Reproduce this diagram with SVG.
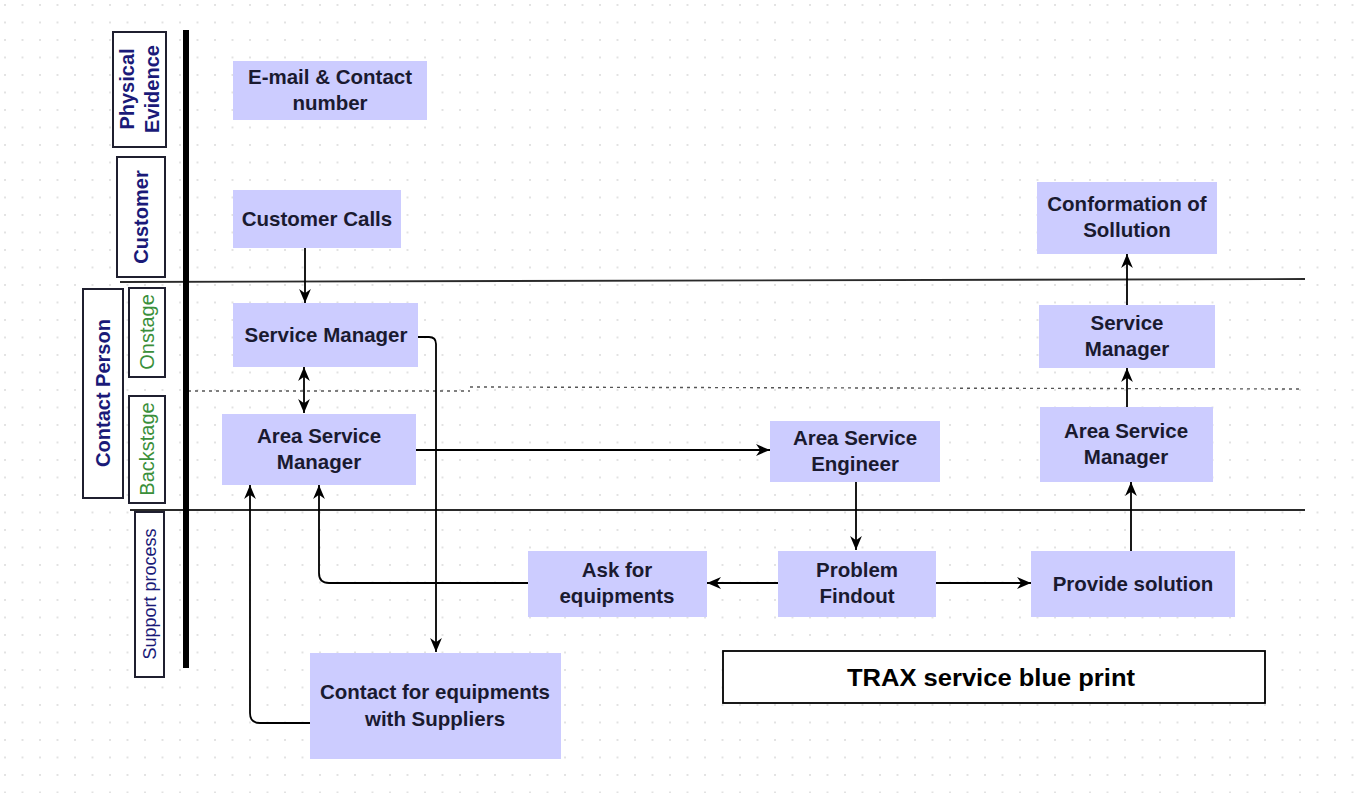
<svg xmlns="http://www.w3.org/2000/svg" width="1368" height="793" viewBox="0 0 1368 793">
<defs>
<pattern id="grid" x="4" y="4" width="17.5" height="17.5" patternUnits="userSpaceOnUse">
<circle cx="1" cy="1" r="0.9" fill="#d6d6d6"/>
</pattern>
<marker id="arr" viewBox="0 0 10 10" refX="10" refY="5" markerWidth="14" markerHeight="14" markerUnits="userSpaceOnUse" orient="auto-start-reverse">
<path d="M0,0.8 L10,5 L0,9.2 L3,5 z" fill="#000"/>
</marker>
</defs>
<style>
.node rect{fill:#ccccff;stroke:none}
.node text{font-family:"Liberation Sans",Arial,sans-serif;font-weight:bold;font-size:20.5px;fill:#1a1a30;text-anchor:middle}
.lane rect{fill:#fff;stroke:#1f1f2f;stroke-width:2}
.lane text{font-family:"Liberation Sans",Arial,sans-serif;font-size:20px;text-anchor:middle}
.navy{fill:#1a1a78;font-weight:bold}
.green{fill:#3a8f3a}
.conn path{fill:none;stroke:#000;stroke-width:1.8;marker-end:url(#arr)}
.sep{stroke:#2a2a2a;stroke-width:1.8}
.dot{stroke:#555;stroke-width:1.4;stroke-dasharray:3 4}
</style>
<rect width="1368" height="793" fill="#fff"/>
<rect width="1368" height="793" fill="url(#grid)"/>

<g id="separators">
<line class="sep" x1="120" y1="282" x2="1305" y2="279"/>
<line class="sep" x1="130" y1="510" x2="1305" y2="510"/>
<line class="dot" x1="188" y1="391" x2="470" y2="391"/>
<line class="dot" x1="470" y1="387" x2="1300" y2="389"/>
<line x1="186" y1="30" x2="186" y2="668" stroke="#000" stroke-width="6"/>
</g>

<g id="lane-physical" class="lane">
<rect x="113" y="32" width="53" height="115"/>
<g transform="translate(139,89) rotate(-90)">
<text class="navy" x="0" y="-5">Physical</text>
<text class="navy" x="0" y="20">Evidence</text>
</g>
</g>
<g id="lane-customer" class="lane">
<rect x="117" y="157" width="48" height="120"/>
<text class="navy" transform="translate(141,217) rotate(-90)" x="0" y="7">Customer</text>
</g>
<g id="lane-contact" class="lane">
<rect x="83" y="289" width="40" height="209"/>
<text class="navy" transform="translate(103,393) rotate(-90)" x="0" y="7">Contact Person</text>
</g>
<g id="lane-onstage" class="lane">
<rect x="129" y="288" width="36" height="89"/>
<text class="green" transform="translate(147,332) rotate(-90)" x="0" y="7">Onstage</text>
</g>
<g id="lane-backstage" class="lane">
<rect x="129" y="396" width="36" height="107"/>
<text class="green" transform="translate(147,449) rotate(-90)" x="0" y="7">Backstage</text>
</g>
<g id="lane-support" class="lane">
<rect x="135" y="512" width="29" height="165"/>
<text class="navy" style="font-weight:normal;font-size:18px" transform="translate(150,594) rotate(-90)" x="0" y="6">Support process</text>
</g>

<g id="connectors" class="conn">
<path d="M305,248 L305,303"/>
<path d="M304,367 L304,413" style="marker-start:url(#arr)"/>
<path d="M418,337 L429,337 Q436,337 436,344 L436,652"/>
<path d="M416,450 L770,450"/>
<path d="M856,482 L856,550"/>
<path d="M778,583 L707,583"/>
<path d="M936,583 L1031,583"/>
<path d="M528,583 L329,583 Q319,583 319,573 L319,485"/>
<path d="M310,723 L260,723 Q250,723 250,713 L250,485"/>
<path d="M1131,551 L1131,482"/>
<path d="M1127,407 L1127,368"/>
<path d="M1127,305 L1127,254"/>
</g>

<g id="n-email" class="node"><rect x="233" y="61" width="194" height="59"/><text x="330" y="84">E-mail &amp; Contact</text><text x="330" y="110">number</text></g>
<g id="n-customer-calls" class="node"><rect x="233" y="190" width="168" height="58"/><text x="317" y="226">Customer Calls</text></g>
<g id="n-service-manager" class="node"><rect x="233" y="303" width="185" height="64"/><text x="326" y="342">Service Manager</text></g>
<g id="n-asm-left" class="node"><rect x="222" y="414" width="194" height="71"/><text x="319" y="443">Area Service</text><text x="319" y="469">Manager</text></g>
<g id="n-ase" class="node"><rect x="770" y="421" width="170" height="61"/><text x="855" y="445">Area Service</text><text x="855" y="471">Engineer</text></g>
<g id="n-problem" class="node"><rect x="778" y="551" width="158" height="66"/><text x="857" y="577">Problem</text><text x="857" y="603">Findout</text></g>
<g id="n-ask" class="node"><rect x="528" y="551" width="179" height="66"/><text x="617" y="577">Ask for</text><text x="617" y="603">equipments</text></g>
<g id="n-provide" class="node"><rect x="1031" y="551" width="204" height="66"/><text x="1133" y="591">Provide solution</text></g>
<g id="n-asm-right" class="node"><rect x="1040" y="407" width="173" height="75"/><text x="1126" y="438">Area Service</text><text x="1126" y="464">Manager</text></g>
<g id="n-sm-right" class="node"><rect x="1039" y="305" width="176" height="63"/><text x="1127" y="330">Service</text><text x="1127" y="356">Manager</text></g>
<g id="n-conformation" class="node"><rect x="1037" y="182" width="180" height="72"/><text x="1127" y="211">Conformation of</text><text x="1127" y="237">Sollution</text></g>
<g id="n-contact-suppliers" class="node"><rect x="310" y="653" width="251" height="106"/><text x="435" y="699">Contact for equipments</text><text x="435" y="726">with Suppliers</text></g>

<g id="title">
<rect x="723" y="651" width="542" height="52" fill="#fff" stroke="#000" stroke-width="1.8"/>
<text x="991" y="686" font-family="'Liberation Sans',Arial,sans-serif" font-weight="bold" font-size="23" text-anchor="middle" fill="#000" textLength="288" lengthAdjust="spacingAndGlyphs">TRAX service blue print</text>
</g>
</svg>
